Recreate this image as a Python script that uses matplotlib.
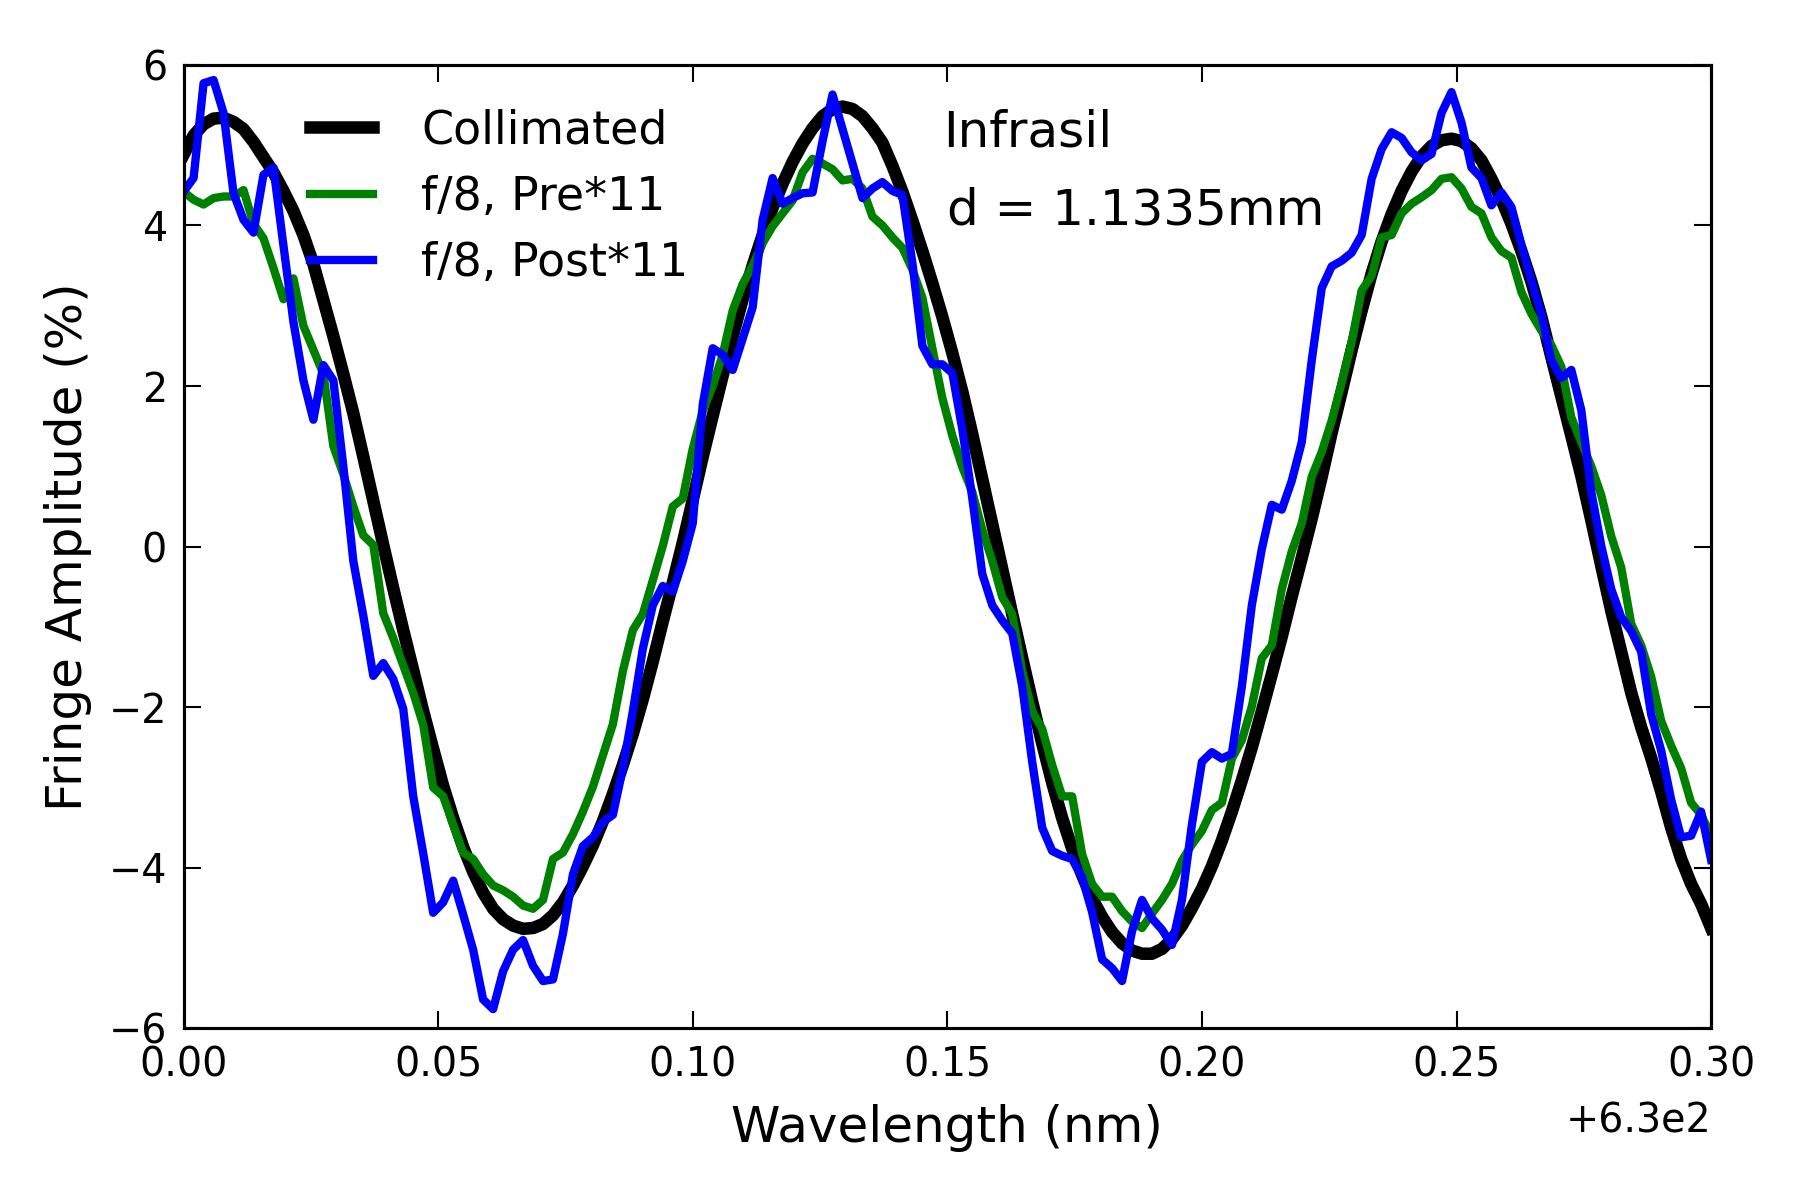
import numpy as np
import matplotlib
matplotlib.use("Agg")
import matplotlib.pyplot as plt
from matplotlib.ticker import ScalarFormatter, MultipleLocator

# Fringe amplitude (%), 154 samples from 630.0 to 630.3 nm
collimated = [
    4.88, 5.12, 5.26, 5.33, 5.34, 5.29, 5.20, 5.04, 4.85, 4.66, 4.43, 4.18, 3.88,
    3.52, 3.07, 2.62, 2.15, 1.66, 1.12, 0.57, 0.02, -0.52, -1.04, -1.54, -2.05, -2.52,
    -2.98, -3.38, -3.74, -4.05, -4.31, -4.51, -4.64, -4.72, -4.76, -4.75, -4.70, -4.59,
    -4.43, -4.22, -3.98, -3.72, -3.42, -3.08, -2.72, -2.33, -1.90, -1.43, -0.93, -0.45,
    0.05, 0.58, 1.12, 1.63, 2.13, 2.62, 3.08, 3.50, 3.88, 4.22, 4.52, 4.79, 5.02, 5.21,
    5.36, 5.45, 5.48, 5.45, 5.36, 5.21, 5.03, 4.74,
    4.42, 4.06, 3.68, 3.28, 2.86, 2.41, 1.93, 1.40, 0.84, 0.28, -0.28, -0.84, -1.39,
    -1.93, -2.45, -2.94, -3.38, -3.76, -4.09, -4.38, -4.61, -4.80, -4.94, -5.03, -5.07,
    -5.07, -5.01, -4.89, -4.72, -4.50, -4.26, -3.98, -3.66, -3.30, -2.91, -2.50, -2.05,
    -1.59, -1.12, -0.62,
    -0.14, 0.35, 0.87, 1.42, 1.93, 2.45, 2.94, 3.40, 3.80, 4.14, 4.43, 4.67, 4.86, 4.99,
    5.06, 5.08, 5.05, 4.96, 4.81, 4.58, 4.32, 4.02, 3.68, 3.30, 2.86, 2.36, 1.87, 1.38,
    0.88, 0.33, -0.24, -0.80, -1.31, -1.82, -2.25, -2.63, -3.05, -3.50, -3.89, -4.20,
    -4.45, -4.75,
]

pre_f8 = [
    4.42, 4.32, 4.26, 4.34, 4.36, 4.36, 4.44, 4.02, 3.84, 3.47, 3.08, 3.34, 2.75,
    2.45, 2.15, 1.25, 0.90, 0.50, 0.14, 0.02, -0.83, -1.14, -1.48, -1.82, -2.22, -3.00,
    -3.11, -3.46, -3.81, -3.89, -4.08, -4.22, -4.28, -4.36, -4.47, -4.51, -4.40, -3.89,
    -3.81, -3.58, -3.30, -2.99, -2.60, -2.21, -1.55, -1.04, -0.84, -0.42, 0.01, 0.50,
    0.60, 1.22, 1.69, 2.00, 2.39, 2.94, 3.27, 3.50, 3.78, 3.99, 4.15, 4.31, 4.66, 4.83,
    4.77, 4.70, 4.56, 4.58, 4.46, 4.11, 4.00, 3.85,
    3.72, 3.45, 3.10, 2.47, 1.85, 1.38, 0.99, 0.68, 0.21, -0.18, -0.63, -0.84, -1.55,
    -2.05, -2.27, -2.72, -3.11, -3.11, -3.83, -4.20, -4.36, -4.36, -4.54, -4.67, -4.75,
    -4.57, -4.40, -4.20, -3.91, -3.71, -3.54, -3.28, -3.19, -2.64, -2.41, -1.99, -1.39,
    -1.23, -0.53, -0.06,
    0.29, 0.87, 1.18, 1.57, 2.04, 2.55, 3.19, 3.37, 3.85, 3.88, 4.15, 4.27, 4.35, 4.44,
    4.58, 4.60, 4.46, 4.23, 4.15, 3.85, 3.68, 3.60, 3.17, 2.90, 2.69, 2.51, 2.24, 1.61,
    1.30, 1.00, 0.64, 0.13, -0.26, -0.96, -1.23, -1.62, -2.17, -2.48, -2.76, -3.19,
    -3.34, -3.60,
]

post_f8 = [
    4.42, 4.59, 5.77, 5.81, 5.40, 4.40, 4.07, 3.91, 4.63, 4.72, 3.75, 2.80, 2.07,
    1.58, 2.26, 2.07, 1.00, -0.18, -0.86, -1.61, -1.45, -1.65, -2.02, -3.11, -3.82, -4.56,
    -4.43, -4.16, -4.58, -5.02, -5.64, -5.76, -5.29, -5.02, -4.90, -5.22, -5.41, -5.39,
    -4.82, -4.08, -3.73, -3.62, -3.43, -3.34, -2.76, -2.05, -1.27, -0.73, -0.49, -0.56,
    -0.18, 0.29, 1.77, 2.47, 2.39, 2.20, 2.59, 2.98, 4.07, 4.59, 4.27, 4.34, 4.40, 4.41,
    5.05, 5.63, 5.20, 4.77, 4.34, 4.46, 4.54, 4.43,
    4.38, 3.53, 2.50, 2.27, 2.27, 2.16, 1.46, 0.60, -0.34, -0.73, -0.92, -1.08, -1.74,
    -2.68, -3.50, -3.79, -3.85, -3.89, -4.12, -4.55, -5.14, -5.25, -5.41, -4.79, -4.40,
    -4.63, -4.77, -4.96, -4.40, -3.46, -2.68, -2.56, -2.64, -2.58, -1.74, -0.73, -0.03,
    0.52, 0.46, 0.82,
    1.30, 2.32, 3.22, 3.49, 3.56, 3.66, 3.88, 4.58, 4.95, 5.16, 5.09, 4.91, 4.81, 4.89,
    5.40, 5.66, 5.28, 4.72, 4.59, 4.25, 4.41, 4.23, 3.76, 3.31, 2.90, 2.32, 2.10, 2.20,
    1.70, 0.68, 0.01, -0.53, -0.88, -1.05, -1.31, -2.09, -2.54, -3.15, -3.62, -3.60,
    -3.30, -3.90,
]

wavelength = np.linspace(630.0, 630.3, len(collimated))

fig = plt.figure(figsize=(12, 8), dpi=150)
ax = fig.add_axes([0.102, 0.143, 0.8486, 0.803])

ax.plot(wavelength, collimated, color='black', linewidth=6, label='Collimated')
ax.plot(wavelength, pre_f8, color='green', linewidth=4, label='f/8, Pre*11')
ax.plot(wavelength, post_f8, color='blue', linewidth=4, label='f/8, Post*11')

ax.set_xlim(630.0, 630.3)
ax.set_ylim(-6, 6)
ax.xaxis.set_major_locator(MultipleLocator(0.05))
ax.yaxis.set_major_locator(MultipleLocator(2))
ax.xaxis.set_major_formatter(ScalarFormatter(useOffset=630.0))

ax.tick_params(direction='in', length=8, width=1, top=True, right=True,
               labelsize=19, pad=8)
# offset label drawn by hand so it sits where the reference has it
ax.xaxis.get_offset_text().set_visible(False)
fig.text(0.951, 0.056, '+6.3e2', fontsize=19, ha='right', va='baseline')
for s in ax.spines.values():
    s.set_linewidth(1.5)

ax.set_xlabel('Wavelength (nm)', fontsize=24, labelpad=9)
ax.set_ylabel('Fringe Amplitude (%)', fontsize=24, labelpad=8)

ax.legend(loc='upper left', bbox_to_anchor=(0.0555, 0.9976), frameon=False,
          fontsize=22, handlelength=1.39, handletextpad=1.05, labelspacing=0.47)

ax.text(0.497, 0.93, 'Infrasil', transform=ax.transAxes, fontsize=24,
        ha='left', va='center')
ax.text(0.50, 0.849, 'd = 1.1335mm', transform=ax.transAxes, fontsize=24,
        ha='left', va='center')

fig.savefig('out.png', dpi=150, facecolor='white')
